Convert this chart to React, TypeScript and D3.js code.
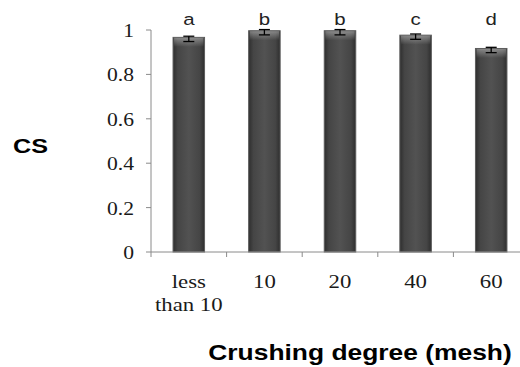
import React from "react";
import * as d3 from "d3";

const categories = ["less than 10", "10", "20", "40", "60"];
const means = [0.96, 0.99, 0.99, 0.97, 0.91];
const errors = [0.012, 0.012, 0.012, 0.012, 0.012];
const letters = ["a", "b", "b", "c", "d"];
const yTicks = [0, 0.2, 0.4, 0.6, 0.8, 1];

const W = 520;
const H = 367;
const SX = 1.2;

function T(props: any) {
  const { x, y, anchor, children, ...rest } = props;
  return (
    <text
      transform={`translate(${x},${y}) scale(${SX},1)`}
      textAnchor={anchor || "middle"}
      {...rest}
    >
      {children}
    </text>
  );
}

export default function App() {
  const x0 = 151;
  const y = d3.scaleLinear().domain([0, 1]).range([252, 30]);
  const x = d3
    .scaleBand<string>()
    .domain(categories)
    .range([x0, x0 + 75.6 * categories.length])
    .paddingInner(0)
    .paddingOuter(0);
  const bw = 31.5;
  const serif = "'Liberation Serif', 'Times New Roman', serif";
  const sans = "'Liberation Sans', Arial, sans-serif";
  const axisColor = "#8a8a8a";

  return (
    <svg
      width={W}
      height={H}
      style={{ position: "absolute", left: 0, top: 0, background: "#fff" }}
    >
      <defs>
        <linearGradient id="barGrad" x1="0" x2="1" y1="0" y2="0">
          <stop offset="0" stopColor="#2e2e2e" />
          <stop offset="0.15" stopColor="#454545" />
          <stop offset="0.5" stopColor="#525252" />
          <stop offset="0.85" stopColor="#454545" />
          <stop offset="1" stopColor="#2e2e2e" />
        </linearGradient>
        <linearGradient id="topGrad" x1="0" x2="0" y1="0" y2="1">
          <stop offset="0" stopColor="#ffffff" stopOpacity="0.35" />
          <stop offset="1" stopColor="#ffffff" stopOpacity="0" />
        </linearGradient>
      </defs>

      {/* y axis */}
      <line x1={x0} x2={x0} y1={y(0)} y2={y(1)} stroke={axisColor} strokeWidth={1} />
      {yTicks.map((t) => (
        <g key={t}>
          <line x1={x0 - 5} x2={x0} y1={y(t)} y2={y(t)} stroke={axisColor} strokeWidth={1} />
          <T
            x={134}
            y={y(t) + 7}
            anchor="end"
            fontFamily={serif}
            fontSize={18}
            fill="#1a1a1a"
          >
            {String(t)}
          </T>
        </g>
      ))}

      {/* bars */}
      {categories.map((c, i) => {
        const cx = (x(c) as number) + x.bandwidth() / 2;
        const top = y(means[i]);
        return (
          <g key={c}>
            <rect
              x={cx - bw / 2}
              y={top - 1.5}
              width={bw}
              height={y(0) - top + 1.5}
              fill="url(#barGrad)"
              stroke="#5c5c5c"
              strokeWidth={1}
            />
            <rect
              x={cx - bw / 2 + 1}
              y={top - 1}
              width={bw - 2}
              height={9}
              fill="url(#topGrad)"
            />
            <line
              x1={cx}
              x2={cx}
              y1={y(means[i] + errors[i])}
              y2={y(means[i] - errors[i])}
              stroke="#000"
              strokeWidth={1.3}
            />
            <line
              x1={cx - 5.5}
              x2={cx + 5.5}
              y1={y(means[i] + errors[i])}
              y2={y(means[i] + errors[i])}
              stroke="#000"
              strokeWidth={1.3}
            />
            <line
              x1={cx - 5.5}
              x2={cx + 5.5}
              y1={y(means[i] - errors[i])}
              y2={y(means[i] - errors[i])}
              stroke="#000"
              strokeWidth={1.3}
            />
            <T x={cx} y={25} fontFamily={sans} fontSize={17} fill="#222">
              {letters[i]}
            </T>
          </g>
        );
      })}

      {/* x axis */}
      <line x1={x0} x2={W + 20} y1={y(0)} y2={y(0)} stroke={axisColor} strokeWidth={1} />
      {categories.map((c, i) => (
        <line
          key={"t" + c}
          x1={(x(c) as number) + (i === 0 ? 0 : 0)}
          x2={x(c) as number}
          y1={y(0)}
          y2={y(0) + 5}
          stroke={axisColor}
          strokeWidth={1}
        />
      ))}
      {categories.map((c) => {
        const cx = (x(c) as number) + x.bandwidth() / 2;
        const words = c === "less than 10" ? ["less", "than 10"] : [c];
        return words.map((w, j) => (
          <T
            key={c + j}
            x={cx}
            y={288 + j * 23}
            fontFamily={serif}
            fontSize={19}
            fill="#1a1a1a"
          >
            {w}
          </T>
        ));
      })}

      <T x={13} y={153} anchor="start" fontFamily={sans} fontSize={21} fontWeight="bold" fill="#000">
        CS
      </T>
      <T x={360} y={360} fontFamily={sans} fontSize={22} fontWeight="bold" fill="#000">
        Crushing degree (mesh)
      </T>
    </svg>
  );
}
